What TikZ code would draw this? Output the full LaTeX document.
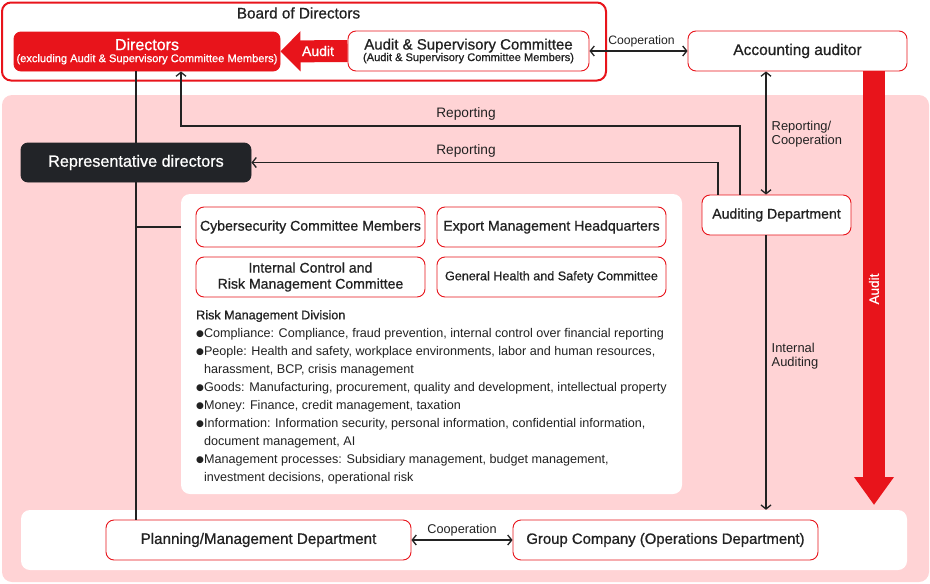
\documentclass[tikz,border=0pt]{standalone}
\usepackage{fontspec}
\setmainfont{Liberation Sans}
\newfontfamily\medium{Liberation Sans}[FakeBold=0.8]
\newfontfamily\dejavu{DejaVu Sans}
\usetikzlibrary{arrows.meta}
\definecolor{cred}{HTML}{E8141B}
\definecolor{cpink}{HTML}{FFD3D5}
\definecolor{cdark}{HTML}{222428}
\definecolor{ctext}{HTML}{222222}
\newcommand\fsz[2]{\fontsize{#1}{#2}\selectfont}
\newcommand\bul{\raisebox{1.3pt}{\dejavu\fsz{9}{9}●}}
\newcommand\nobul{\phantom{\bul}}
\begin{document}
\begin{tikzpicture}[x=1pt,y=-1pt,
  box/.style={draw=cred, line width=0.9pt, rounded corners=8pt, fill=white, text=ctext, align=center, inner sep=0pt, minimum height=40pt},
  conn/.style={draw=ctext, line width=1.3pt},
  tipc/.style={-{Straight Barb[length=4pt,width=10pt]}},
  tipcc/.style={{Straight Barb[length=4pt,width=10pt]}-{Straight Barb[length=4pt,width=10pt]}},
  lbl/.style={text=ctext, inner sep=0pt},
  bigarrow/.style={draw=cred, line width=22pt, -{Triangle[width=39pt,length=20pt]}}
]
\useasboundingbox (0,0) rectangle (930,584);
% backgrounds
\node[draw=cred, line width=2pt, rounded corners=9pt, minimum width=604pt, minimum height=78pt, inner sep=0pt] (board) at (304,41.5) {};
\node[lbl, font=\medium\fsz{15.3}{17}] (boardt) at (298.5,13) {Board of Directors};
\node[fill=cpink, rounded corners=10pt, minimum width=927pt, minimum height=487pt, inner sep=0pt] (bg) at (465.5,338.5) {};
\node[fill=white, rounded corners=9pt, minimum width=886pt, minimum height=60pt, inner sep=0pt] (strip) at (464,540) {};
\node[fill=white, rounded corners=9pt, minimum width=501pt, minimum height=300pt, inner sep=0pt] (panel) at (431.5,344) {};

% top boxes
\node[box, fill=cred, draw=cred, text=white, minimum width=266pt, minimum height=39pt, rounded corners=7pt] (dirs) at (147,51.5)
  {{\medium\fsz{16}{17}Directors}\\[0pt]{\medium\fsz{11.1}{11}(excluding Audit \& Supervisory Committee Members)}};
\node[box, minimum width=241pt] (asc) at (468.5,51)
  {{\medium\fsz{15}{16}Audit \& Supervisory Committee}\\[-0.5pt]{\medium\fsz{11.1}{11}(Audit \& Supervisory Committee Members)}};
\node[box, minimum width=219pt, font=\medium\fsz{15.5}{17}] (acc) at (797.5,51) {Accounting auditor};

% middle boxes
\node[box, draw=cdark, fill=cdark, text=white, minimum width=230pt, minimum height=39pt, rounded corners=7pt, font=\medium\fsz{16.2}{17}] (rep) at (136,162.5) {Representative directors};
\node[box, minimum width=229pt, font=\medium\fsz{14.1}{16}] (cyber) at (310.5,227) {Cybersecurity Committee Members};
\node[box, minimum width=229pt, font=\medium\fsz{14.1}{16}] (export) at (551.5,227) {Export Management Headquarters};
\node[box, minimum width=229pt, font=\medium\fsz{14.1}{16}] (icrm) at (310.5,277) {Internal Control and\\Risk Management Committee};
\node[box, minimum width=229pt, font=\medium\fsz{12.6}{16}] (gen) at (551.5,277) {General Health and Safety Committee};
\node[box, minimum width=149pt, font=\medium\fsz{14.1}{16}] (aud) at (776.5,215) {Auditing Department};

% bottom boxes
\node[box, minimum width=305pt, font=\medium\fsz{15.2}{17}] (plan) at (258.5,540) {Planning/Management Department};
\node[box, minimum width=305pt, font=\medium\fsz{14.9}{17}] (group) at (665.5,540) {Group Company (Operations Department)};

% risk text
\node[lbl, anchor=north west, align=left, font=\fsz{12.6}{18}] (risk) at (196,310) {%
{\medium Risk Management Division}\\
\bul Compliance: Compliance, fraud prevention, internal control over financial reporting\\
\bul People: Health and safety, workplace environments, labor and human resources,\\
\nobul harassment, BCP, crisis management\\
\bul Goods: Manufacturing, procurement, quality and development, intellectual property\\
\bul Money: Finance, credit management, taxation\\
\bul Information: Information security, personal information, confidential information,\\
\nobul document management, AI\\
\bul Management processes: Subsidiary management, budget management,\\
\nobul investment decisions, operational risk};

% big red arrows
\draw[bigarrow] (asc.west) -- (dirs.east);
\node[lbl, text=white, font=\medium\fsz{14}{16}] (audtxt) at (318,51) {Audit};
\coordinate (bigend) at (874,505);
\draw[bigarrow, -{Triangle[width=38pt,length=28pt]}] ([xshift=76.5pt]acc.south) -- (bigend);
\node[lbl, text=white, rotate=90, font=\medium\fsz{13.5}{15}] (audtxt2) at (874,289) {Audit};

% connectors
\draw[conn] (dirs.south -| rep.north) -- (rep.north);
\draw[conn] (rep.south) -- (rep.south |- plan.north);
\draw[conn] (rep.south |- cyber.west) -- (panel.west |- cyber.west);
\coordinate (r1) at (181,126);
\draw[conn, tipc] ([xshift=-36.5pt]aud.north) |- (r1) -- (r1 |- dirs.south);
\draw[conn, tipc] ([xshift=-58.5pt]aud.north) |- (rep.east);
\node[lbl, font=\fsz{13.7}{15}] (rep1) at (466,114) {Reporting};
\node[lbl, font=\fsz{13.7}{15}] (rep2) at (466,151) {Reporting};
\draw[conn, tipcc] (asc.east) -- (acc.west);
\node[lbl, font=\fsz{12.2}{14}] (coop1) at (641.5,41) {Cooperation};
\draw[conn, tipcc] ([xshift=-31.5pt]acc.south) -- ([xshift=-10.5pt]aud.north);
\node[lbl, anchor=west, align=left, font=\fsz{12.9}{14}] (rc) at (771.5,134) {Reporting/\\Cooperation};
\draw[conn, tipc] ([xshift=-10.5pt]aud.south) -- ([xshift=-10.5pt]aud.south |- strip.north);
\node[lbl, anchor=west, align=left, font=\fsz{12.9}{14}] (ia) at (771.5,356) {Internal\\Auditing};
\draw[conn, tipcc] (plan.east) -- (group.west);
\node[lbl, font=\fsz{12.7}{14}] (coop2) at (462,530) {Cooperation};
\end{tikzpicture}
\end{document}
